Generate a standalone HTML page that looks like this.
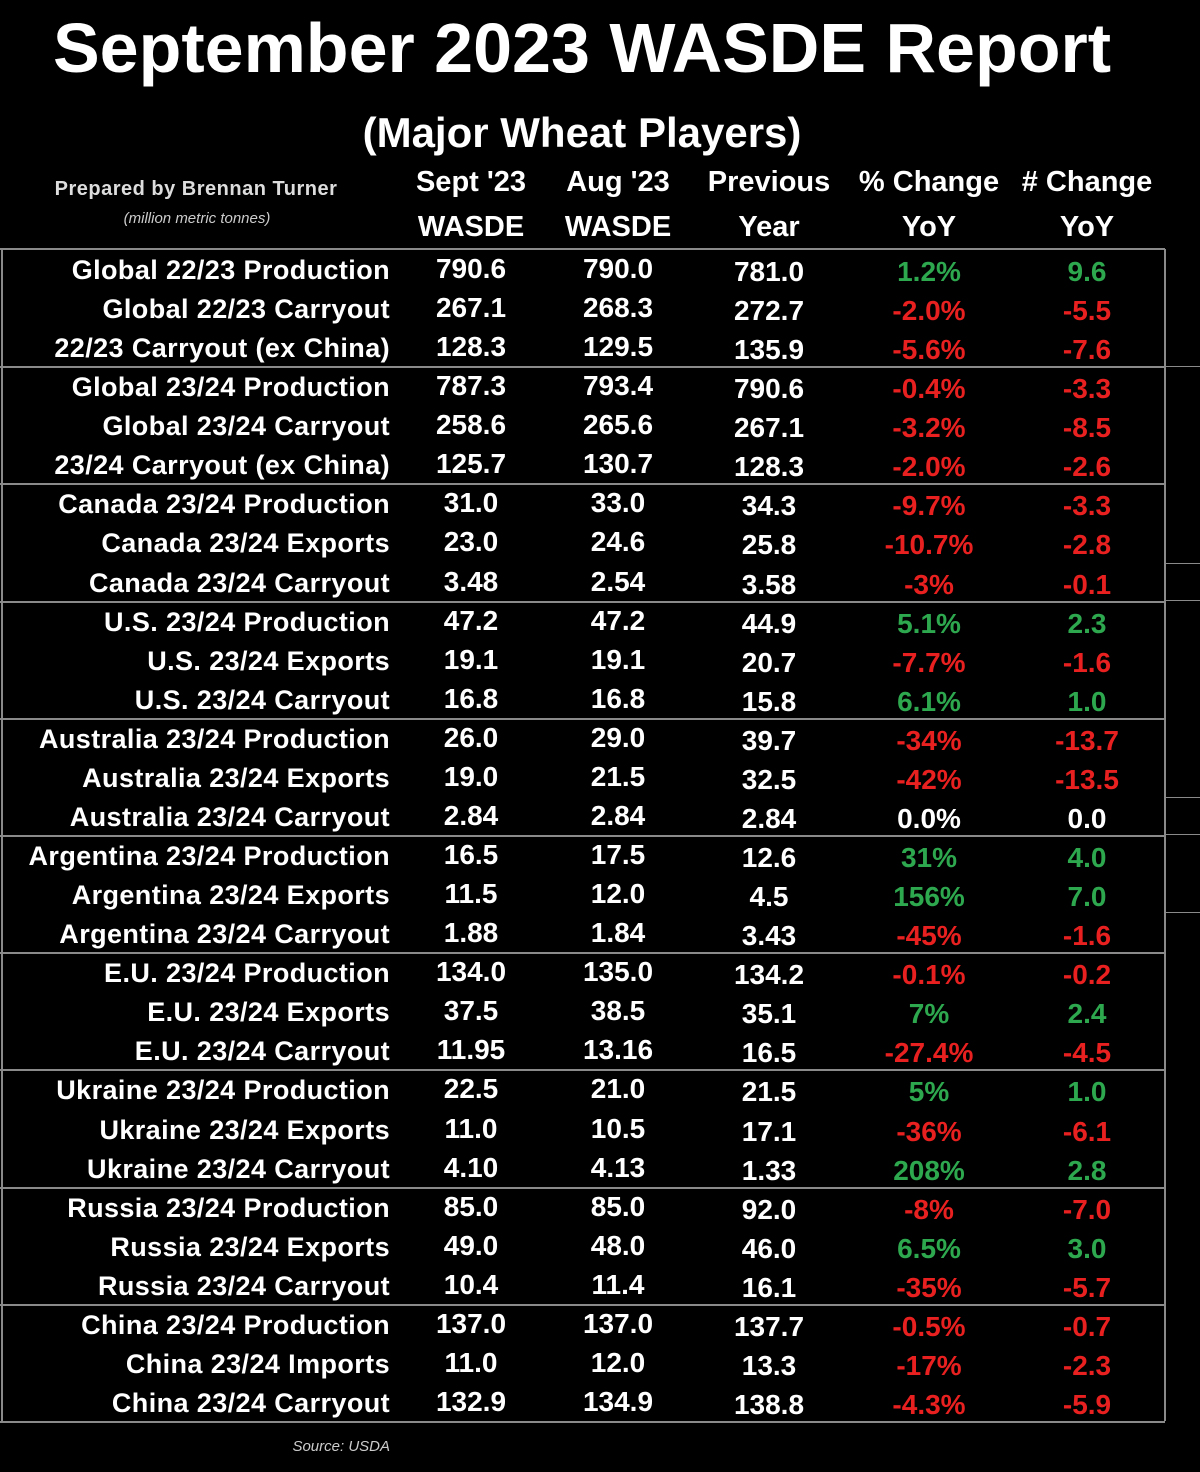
<!DOCTYPE html>
<html><head><meta charset="utf-8"><style>
body{margin:0;background:#000;width:1200px;height:1472px;overflow:hidden;position:relative;font-family:"Liberation Sans",sans-serif;color:#fff}
.t{position:absolute;white-space:nowrap;font-weight:bold;line-height:1}
.c{transform:translateX(-50%)}
.r{transform:translateX(-100%)}
.ln{position:absolute;background:#8a8a8a}
</style></head><body>
<div class="t c" style="left:582px;top:13px;font-size:70px">September 2023 WASDE Report</div>
<div class="t c" style="left:582px;top:112px;font-size:42px">(Major Wheat Players)</div>
<div class="t c" style="left:196px;top:179px;font-size:20px;letter-spacing:0.5px;color:#ddd">Prepared by Brennan Turner</div>
<div class="t c" style="left:197px;top:211px;font-size:15px;font-weight:normal;font-style:italic;color:#ccc">(million metric tonnes)</div>
<div id="hdr"></div>
<div id="tbl"></div>
<div class="t r" style="left:390px;top:1439px;font-size:15px;font-weight:normal;font-style:italic;color:#ccc">Source: USDA</div>
<script>
const labels=["Global 22/23 Production","Global 22/23 Carryout","22/23 Carryout (ex China)","Global 23/24 Production","Global 23/24 Carryout","23/24 Carryout (ex China)","Canada 23/24 Production","Canada 23/24 Exports","Canada 23/24 Carryout","U.S. 23/24 Production","U.S. 23/24 Exports","U.S. 23/24 Carryout","Australia 23/24 Production","Australia 23/24 Exports","Australia 23/24 Carryout","Argentina 23/24 Production","Argentina 23/24 Exports","Argentina 23/24 Carryout","E.U. 23/24 Production","E.U. 23/24 Exports","E.U. 23/24 Carryout","Ukraine 23/24 Production","Ukraine 23/24 Exports","Ukraine 23/24 Carryout","Russia 23/24 Production","Russia 23/24 Exports","Russia 23/24 Carryout","China 23/24 Production","China 23/24 Imports","China 23/24 Carryout"];
const sept=["790.6","267.1","128.3","787.3","258.6","125.7","31.0","23.0","3.48","47.2","19.1","16.8","26.0","19.0","2.84","16.5","11.5","1.88","134.0","37.5","11.95","22.5","11.0","4.10","85.0","49.0","10.4","137.0","11.0","132.9"];
const aug=["790.0","268.3","129.5","793.4","265.6","130.7","33.0","24.6","2.54","47.2","19.1","16.8","29.0","21.5","2.84","17.5","12.0","1.84","135.0","38.5","13.16","21.0","10.5","4.13","85.0","48.0","11.4","137.0","12.0","134.9"];
const prev=["781.0","272.7","135.9","790.6","267.1","128.3","34.3","25.8","3.58","44.9","20.7","15.8","39.7","32.5","2.84","12.6","4.5","3.43","134.2","35.1","16.5","21.5","17.1","1.33","92.0","46.0","16.1","137.7","13.3","138.8"];
const pct=["1.2%","-2.0%","-5.6%","-0.4%","-3.2%","-2.0%","-9.7%","-10.7%","-3%","5.1%","-7.7%","6.1%","-34%","-42%","0.0%","31%","156%","-45%","-0.1%","7%","-27.4%","5%","-36%","208%","-8%","6.5%","-35%","-0.5%","-17%","-4.3%"];
const chg=["9.6","-5.5","-7.6","-3.3","-8.5","-2.6","-3.3","-2.8","-0.1","2.3","-1.6","1.0","-13.7","-13.5","0.0","4.0","7.0","-1.6","-0.2","2.4","-4.5","1.0","-6.1","2.8","-7.0","3.0","-5.7","-0.7","-2.3","-5.9"];
const headers=[["Sept '23","WASDE"],["Aug '23","WASDE"],["Previous","Year"],["% Change","YoY"],["# Change","YoY"]];
const colX=[471,618,769,929,1087];
const top0=251,rowH=39.07;
function add(parent,cls,txt,x,y,size,color,name){const d=document.createElement('div');d.className='t '+cls;d.textContent=txt;d.style.left=x+'px';d.style.top=y+'px';d.style.fontSize=size+'px';if(color)d.style.color=color;


parent.appendChild(d);return d;}
const hdr=document.getElementById('hdr');
headers.forEach((h,i)=>{add(hdr,'c',h[0],colX[i],168,29,null,'column-header');add(hdr,'c',h[1],colX[i],213,29,null,'column-header');});
const tb=document.getElementById('tbl');
function line(x,y,w,h,name){const l=document.createElement('div');l.className='ln';l.style.left=x+'px';l.style.top=y+'px';l.style.width=w+'px';l.style.height=h+'px';


tb.appendChild(l);}
line(0,248,1165,2,'table-top-border');
line(1,249,2,1172,'table-left-border');
line(1164,249,2,1172,'table-right-border');
for(let g=1;g<=10;g++){line(0,Math.round(top0+g*3*rowH)-2,1165,2,'group-separator');}
[366,563,600,797,834,912].forEach(y=>line(1166,y,34,1,'edge-stub'));
function col(v){const n=parseFloat(v);return n>0?'#2ea84f':n<0?'#e8201f':'#fff';}
labels.forEach((lb,i)=>{const y=Math.round(top0+i*rowH)+6;
const l=add(tb,'r',lb,390,y,27,null,'row-label');l.style.letterSpacing='0.4px';
add(tb,'c',sept[i],colX[0],y-2,28,null,'sept-value');
add(tb,'c',aug[i],colX[1],y-2,28,null,'aug-value');
add(tb,'c',prev[i],colX[2],y+1,28,null,'previous-year-value');
add(tb,'c',pct[i],colX[3],y+1,28,col(chg[i]),'pct-change-value');
add(tb,'c',chg[i],colX[4],y+1,28,col(chg[i]),'num-change-value');});
</script>
</body></html>
